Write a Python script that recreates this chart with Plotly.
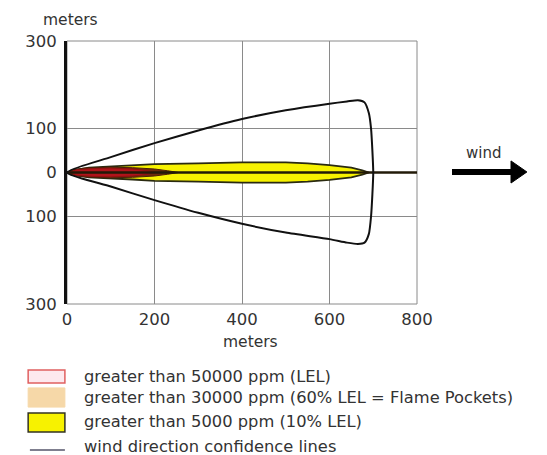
import plotly.graph_objects as go

# ---- data ----
# wind direction confidence lines (upper edge, arc, lower edge)
conf_x = [0, 100, 200, 300, 400, 500, 600, 640, 665, 680, 690, 695, 698, 700,
          698, 695, 690, 680, 665, 640, 600, 500, 400, 300, 200, 100, 0]
conf_y = [0, 35, 67, 96, 122, 142, 157, 162, 165, 160, 135, 100, 50, 0,
          -50, -100, -140, -160, -163, -160, -152, -137, -117, -92, -63, -32, 0]

# >5000 ppm plume (half-width vs downwind distance)
lel10_x = [0, 20, 50, 100, 150, 200, 300, 400, 500, 550, 600, 650, 675, 690]
lel10_hw = [0, 6, 11, 14, 16, 19, 21, 23, 23, 21, 17, 11, 5, 0]

# >30000 ppm (flame pockets)
lel60_x = [0, 10, 40, 100, 150, 200, 230, 255]
lel60_hw = [0, 6, 10, 12, 11, 8, 4, 0]

# >50000 ppm (LEL)
lel_x = [5, 20, 60, 100, 150, 185, 200]
lel_hw = [0, 6, 9, 10, 8, 4, 0]

# centre (wind direction) line
center_x = [0, 800]
center_y = [0, 0]

x_ticks = [0, 200, 400, 600, 800]
y_ticks = [-300, -100, 0, 100, 300]
y_ticktext = ["300", "100", "0", "100", "300"]

legend_labels = [
    "greater than 50000 ppm (LEL)",
    "greater than 30000 ppm (60% LEL = Flame Pockets)",
    "greater than 5000 ppm (10% LEL)",
    "wind direction confidence lines",
]


def poly(xs, hw):
    return xs + xs[::-1], hw + [-v for v in hw[::-1]]


fig = go.Figure()

px_, py_ = poly(lel10_x, lel10_hw)
fig.add_trace(go.Scatter(x=px_, y=py_, fill="toself", fillcolor="#f7f200",
                         line=dict(color="#2a2a10", width=1.8), mode="lines",
                         hoverinfo="skip", showlegend=False))
px_, py_ = poly(lel60_x, lel60_hw)
fig.add_trace(go.Scatter(x=px_, y=py_, fill="toself", fillcolor="#6e2c0c",
                         line=dict(color="#4a2008", width=1), mode="lines",
                         hoverinfo="skip", showlegend=False))
px_, py_ = poly(lel_x, lel_hw)
fig.add_trace(go.Scatter(x=px_, y=py_, fill="toself", fillcolor="#b0141a",
                         line=dict(color="#901010", width=1), mode="lines",
                         hoverinfo="skip", showlegend=False))
fig.add_trace(go.Scatter(x=center_x, y=center_y, mode="lines",
                         line=dict(color="#221a08", width=2.5),
                         hoverinfo="skip", showlegend=False))
fig.add_trace(go.Scatter(x=conf_x, y=conf_y, mode="lines",
                         line=dict(color="#111111", width=2, shape="spline", smoothing=0.6),
                         hoverinfo="skip", showlegend=False))

font = "DejaVu Sans, Verdana, sans-serif"

shapes = [
    # plot border
    dict(type="rect", xref="paper", yref="paper", x0=0, x1=1, y0=0, y1=1,
         line=dict(color="#8a8a8a", width=1), layer="below"),
    # wind arrow shaft
    dict(type="line", xref="paper", yref="paper", x0=1.1, x1=1.275,
         y0=0.502, y1=0.502, line=dict(color="black", width=6)),
    # wind arrow head
    dict(type="path", xref="paper", yref="paper",
         path="M 1.2686 0.544 L 1.314 0.502 L 1.2686 0.460 Z",
         fillcolor="black", line=dict(color="black", width=1)),
    # legend swatches
    dict(type="rect", xref="paper", yref="paper", x0=-0.111, x1=-0.006,
         y0=-0.300, y1=-0.251, fillcolor="#fde9ee", line=dict(color="#e06060", width=1.5)),
    dict(type="rect", xref="paper", yref="paper", x0=-0.111, x1=-0.006,
         y0=-0.392, y1=-0.319, fillcolor="#f6d8a8", line=dict(color="#f6d8a8", width=1)),
    dict(type="rect", xref="paper", yref="paper", x0=-0.111, x1=-0.006,
         y0=-0.487, y1=-0.414, fillcolor="#f7f200", line=dict(color="#333322", width=1.5)),
    dict(type="line", xref="paper", yref="paper", x0=-0.106, x1=-0.006,
         y0=-0.555, y1=-0.555, line=dict(color="#55556a", width=1.5)),
]

legend_y = [-0.274, -0.354, -0.445, -0.540]
annotations = [
    dict(text="meters", xref="paper", yref="paper", x=0.0086, y=1.08,
         xanchor="center", yanchor="middle",
         showarrow=False, font=dict(size=15.5, color="#333333", family=font)),
    dict(text="meters", xref="paper", yref="paper", x=0.523, y=-0.1445,
         xanchor="center", yanchor="middle",
         showarrow=False, font=dict(size=15.5, color="#333333", family=font)),
    dict(text="wind", xref="paper", yref="paper", x=1.189, y=0.574,
         xanchor="center", yanchor="middle",
         showarrow=False, font=dict(size=15, color="#333333", family=font)),
]
for lab, yy in zip(legend_labels, legend_y):
    annotations.append(dict(text=lab, xref="paper", yref="paper", x=0.043, y=yy,
                            xanchor="left", yanchor="middle", showarrow=False,
                            font=dict(size=16.3, color="#333333", family=font)))

fig.update_layout(
    width=547, height=455, autosize=False,
    margin=dict(l=67, r=130, t=41, b=151, pad=0),
    plot_bgcolor="white", paper_bgcolor="white",
    font=dict(family=font, size=16, color="#333333"),
    shapes=shapes, annotations=annotations,
    xaxis=dict(range=[0, 800], tickvals=x_ticks, showgrid=True,
               gridcolor="#8a8a8a", gridwidth=1, zeroline=False, showline=False,
               ticks="", ticklabelstandoff=3, fixedrange=True,
               tickfont=dict(size=16.5)),
    yaxis=dict(range=[-300, 300], tickvals=y_ticks, ticktext=y_ticktext,
               showgrid=True, gridcolor="#8a8a8a", gridwidth=1, zeroline=False,
               showline=True, linecolor="#111111", linewidth=3, ticks="",
               ticklabelstandoff=4, fixedrange=True, tickfont=dict(size=16.5)),
)

fig.write_html("out.html")
